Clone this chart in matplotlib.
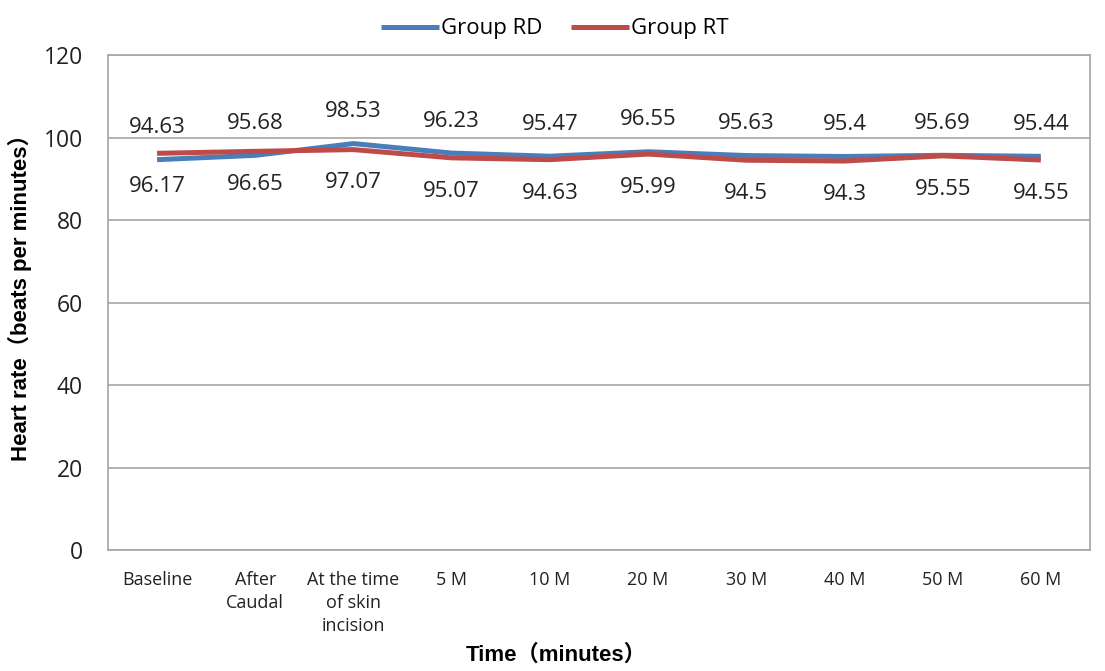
import matplotlib.pyplot as plt
import numpy as np

categories = ["Baseline", "After\nCaudal", "At the time\nof skin\nincision", "5 M", "10 M",
              "20 M", "30 M", "40 M", "50 M", "60 M"]
group_rd = [94.63, 95.68, 98.53, 96.23, 95.47, 96.55, 95.63, 95.4, 95.69, 95.44]
group_rt = [96.17, 96.65, 97.07, 95.07, 94.63, 95.99, 94.5, 94.3, 95.55, 94.55]
yticks = [0, 20, 40, 60, 80, 100, 120]

BLUE = "#4a7ebb"
RED = "#be4b48"
LABEL_FONT = ["Open Sans", "DejaVu Sans"]
AXIS_FONT = ["Liberation Sans", "Noto Sans CJK SC"]

fig = plt.figure(figsize=(11.05, 6.71), dpi=100)
ax = fig.add_axes([0.0977, 0.1803, 0.8887, 0.7377])

x = np.arange(len(categories))
ax.plot(x, group_rd, color=BLUE, lw=3.6, label="Group RD", solid_capstyle="butt", zorder=3)
ax.plot(x, group_rt, color=RED, lw=3.6, label="Group RT", solid_capstyle="butt", zorder=3)

# value labels: RD above its line, RT below
for xi, v in zip(x, group_rd):
    ax.annotate(f"{v:g}", (xi, v), xytext=(0, 23), textcoords="offset points",
                ha="center", va="center", fontsize=16, color="#222222", family=LABEL_FONT)
for xi, v in zip(x, group_rt):
    ax.annotate(f"{v:g}", (xi, v), xytext=(0, -24), textcoords="offset points",
                ha="center", va="center", fontsize=16, color="#222222", family=LABEL_FONT)

ax.set_xlim(-0.5, len(categories) - 0.5)
ax.set_ylim(0, 120)
ax.set_yticks(yticks)
ax.set_xticks(x)
ax.set_xticklabels(categories, fontsize=13, family=LABEL_FONT, color="#222222", linespacing=1.35)
for t in ax.get_yticklabels():
    t.set_fontsize(16.5)
    t.set_family(LABEL_FONT)
    t.set_color("#222222")
ax.tick_params(axis="y", length=0, pad=18)
ax.tick_params(axis="x", length=0, pad=15)

ax.grid(axis="y", color="#a6a6a6", lw=1.2)
ax.set_axisbelow(True)
for s in ax.spines.values():
    s.set_color("#a6a6a6")
    s.set_linewidth(1.2)

ax.set_xlabel("Time（minutes）", fontsize=16, fontweight="bold", family=AXIS_FONT)
ax.set_ylabel("Heart rate（beats per minutes）", fontsize=16, fontweight="bold", family=AXIS_FONT)
ax.xaxis.set_label_coords(0.456, -0.212)
ax.yaxis.set_label_coords(-0.0896, 0.52)
ax.xaxis.label.set_va("center")
ax.yaxis.label.set_va("center")

leg = ax.legend(loc="lower center", bbox_to_anchor=(0.455, 1.0), ncol=2, frameon=False,
                handlelength=2.6, handletextpad=0.1, columnspacing=1.3, borderaxespad=0.3,
                prop={"family": LABEL_FONT, "size": 16})

fig.savefig("out.png", dpi=100)
